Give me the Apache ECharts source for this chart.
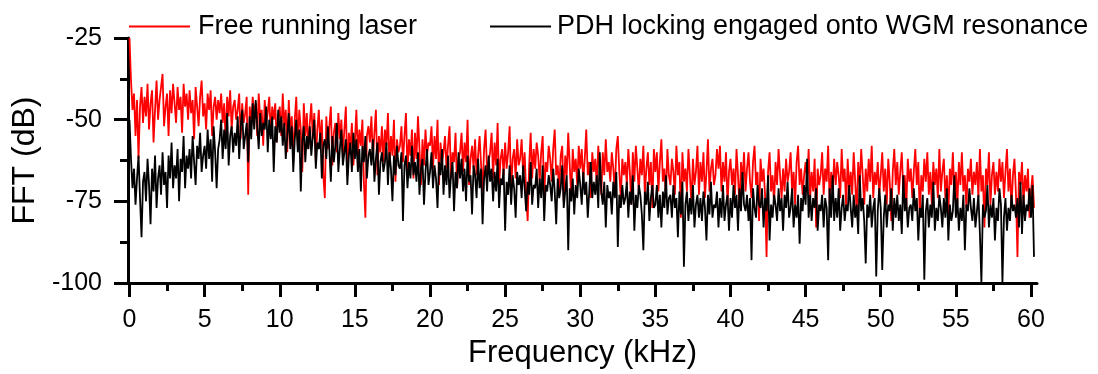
<!DOCTYPE html>
<html>
<head>
<meta charset="utf-8">
<script src="https://cdn.jsdelivr.net/npm/echarts@6/dist/echarts.min.js"></script>
<style>
html,body{margin:0;padding:0;background:#fff;}
#chart{width:1098px;height:374px;}
</style>
</head>
<body>
<div id="chart"></div>
<script>
// Frequency grid (kHz): first sample and spacing
const freqStart = 0;
const freqStep = 0.1;

const seriesNames = ['Free running laser', 'PDH locking engaged onto WGM resonance'];

// Free running laser FFT (dB) (one row = 1 kHz)
const freeRunning = [
  -25, -38, -47, -42, -55, -44, -62, -46, -40, -51,
  -43, -49, -39, -53, -45, -41, -57, -47, -38, -50,
  -44, -40, -36, -52, -46, -42, -55, -41, -48, -39,
  -45, -51, -40, -47, -43, -54, -39, -46, -42, -50,
  -41, -48, -44, -56, -40, -46, -52, -43, -38, -49,
  -45, -53, -42, -47, -41, -55, -46, -43, -50, -44,
  -48, -42, -51, -45, -57, -43, -49, -41, -53, -46,
  -44, -50, -47, -42, -56, -45, -51, -48, -43, -73,
  -46, -52, -43, -49, -45, -55, -42, -50, -47, -58,
  -44, -51, -48, -43, -54, -46, -50, -45, -57, -49,
  -46, -55, -42, -52, -47, -60, -44, -54, -49, -63,
  -50, -43, -58, -47, -53, -66, -45, -55, -48, -59,
  -51, -45, -56, -48, -63, -53, -47, -58, -50, -67,
  -74, -49, -59, -52, -46, -64, -54, -51, -60, -48,
  -56, -50, -61, -53, -46, -67, -54, -59, -51, -64,
  -57, -47, -61, -53, -58, -50, -69, -80, -55, -52,
  -57, -49, -62, -54, -47, -67, -55, -60, -52, -63,
  -53, -58, -48, -64, -55, -61, -50, -69, -56, -60,
  -58, -52, -63, -55, -48, -66, -56, -61, -53, -68,
  -54, -62, -49, -59, -70, -56, -64, -53, -61, -57,
  -58, -52, -65, -55, -62, -50, -70, -57, -63, -60,
  -55, -65, -58, -52, -68, -60, -63, -54, -71, -62,
  -60, -54, -66, -57, -63, -50, -70, -62, -58, -65,
  -56, -67, -61, -55, -64, -72, -59, -53, -66, -63,
  -60, -54, -68, -57, -64, -51, -70, -62, -59, -67,
  -57, -65, -60, -52, -72, -62, -59, -68, -56, -64,
  -62, -56, -67, -60, -73, -81, -64, -54, -68, -59,
  -65, -57, -61, -69, -60, -55, -74, -63, -66, -58,
  -62, -69, -59, -53, -67, -64, -72, -61, -58, -75,
  -61, -67, -54, -64, -74, -59, -66, -62, -70, -58,
  -65, -59, -69, -62, -53, -67, -63, -74, -60, -66,
  -62, -70, -58, -65, -73, -60, -67, -56, -66, -63,
  -69, -60, -65, -72, -59, -55, -66, -74, -62, -67,
  -63, -70, -59, -66, -76, -60, -69, -58, -65, -72,
  -62, -67, -58, -73, -65, -60, -70, -63, -77, -59,
  -66, -60, -72, -63, -56, -69, -65, -74, -59, -67,
  -70, -62, -66, -73, -58, -67, -63, -80, -60, -69,
  -65, -72, -59, -67, -76, -62, -70, -66, -58, -73,
  -63, -69, -60, -74, -66, -56, -72, -65, -62, -70,
  -67, -59, -65, -58, -72, -63, -69, -60, -76, -66,
  -62, -70, -65, -73, -59, -67, -77, -63, -69, -60,
  -72, -65, -60, -69, -74, -63, -58, -70, -66, -81,
  -62, -69, -65, -73, -92, -66, -60, -72, -67, -76,
  -63, -70, -59, -67, -74, -65, -72, -62, -69, -66,
  -60, -72, -66, -76, -63, -58, -70, -65, -73, -67,
  -63, -69, -59, -74, -66, -72, -62, -83, -65, -70,
  -67, -60, -73, -65, -69, -58, -76, -66, -72, -62,
  -70, -63, -67, -74, -59, -69, -65, -77, -62, -72,
  -66, -73, -60, -69, -79, -63, -70, -59, -67, -76,
  -65, -72, -62, -69, -58, -74, -66, -70, -63, -73,
  -67, -60, -72, -65, -76, -62, -69, -81, -66, -59,
  -70, -63, -73, -66, -60, -72, -67, -77, -62, -69,
  -65, -74, -66, -59, -70, -63, -80, -67, -72, -62,
  -69, -60, -73, -66, -76, -63, -70, -65, -74, -59,
  -72, -66, -62, -74, -67, -79, -65, -70, -60, -73,
  -66, -76, -63, -70, -60, -72, -67, -77, -65, -69,
  -62, -73, -66, -70, -63, -74, -59, -72, -67, -83,
  -65, -70, -60, -76, -67, -63, -73, -66, -72, -62,
  -69, -63, -74, -66, -59, -72, -65, -77, -67, -62,
  -73, -92, -66, -70, -63, -76, -67, -72, -65, -80,
  -72, -67, -77
];

// PDH locked FFT (dB) (one row = 1 kHz)
const pdhLocked = [
  -50, -62, -71, -65, -76, -68, -61, -74, -86, -69,
  -66, -75, -62, -70, -82, -65, -72, -61, -77, -68,
  -64, -73, -60, -70, -66, -77, -61, -68, -57, -71,
  -64, -68, -59, -75, -62, -66, -55, -71, -61, -65,
  -59, -68, -55, -63, -70, -58, -62, -54, -66, -61,
  -58, -65, -53, -62, -56, -69, -52, -60, -71, -59,
  -56, -50, -62, -53, -59, -48, -64, -55, -52, -60,
  -54, -58, -49, -62, -52, -47, -59, -55, -51, -63,
  -49, -56, -45, -53, -44, -52, -59, -48, -55, -51,
  -53, -46, -60, -50, -56, -49, -66, -52, -57, -47,
  -54, -49, -58, -51, -62, -55, -48, -59, -52, -66,
  -56, -50, -60, -53, -72, -57, -52, -63, -55, -59,
  -52, -61, -55, -50, -65, -57, -59, -54, -68, -58,
  -56, -62, -52, -59, -69, -55, -63, -58, -51, -66,
  -59, -53, -64, -60, -56, -70, -61, -57, -66, -54,
  -62, -56, -66, -59, -72, -58, -63, -55, -68, -61,
  -59, -64, -56, -69, -62, -57, -73, -63, -60, -66,
  -63, -57, -70, -60, -65, -75, -61, -67, -58, -64,
  -65, -60, -81, -64, -61, -71, -63, -68, -58, -67,
  -63, -69, -60, -73, -65, -62, -76, -66, -59, -70,
  -66, -60, -71, -64, -68, -77, -63, -67, -59, -73,
  -64, -70, -61, -74, -67, -63, -78, -66, -71, -60,
  -68, -62, -72, -65, -75, -61, -69, -67, -79, -64,
  -67, -74, -62, -71, -65, -82, -68, -64, -72, -61,
  -69, -65, -75, -66, -72, -62, -77, -68, -70, -65,
  -84, -69, -73, -64, -76, -67, -71, -80, -66, -70,
  -67, -74, -64, -71, -78, -69, -73, -63, -76, -70,
  -71, -65, -77, -68, -74, -64, -81, -70, -72, -67,
  -70, -75, -65, -72, -82, -68, -74, -71, -64, -77,
  -72, -67, -90, -71, -75, -68, -79, -70, -74, -65,
  -70, -76, -66, -73, -69, -80, -72, -63, -74, -69,
  -73, -67, -77, -60, -72, -76, -69, -83, -70, -74,
  -72, -79, -69, -74, -66, -89, -73, -77, -70, -76,
  -74, -69, -80, -72, -76, -67, -84, -73, -77, -70,
  -73, -79, -90, -72, -76, -69, -81, -74, -70, -77,
  -76, -70, -80, -73, -83, -72, -77, -67, -79, -74,
  -73, -80, -70, -77, -74, -86, -72, -79, -69, -95,
  -76, -72, -81, -74, -79, -70, -83, -76, -73, -80,
  -74, -81, -72, -77, -87, -73, -79, -69, -80, -76,
  -77, -72, -83, -74, -80, -70, -81, -76, -73, -84,
  -74, -80, -70, -77, -73, -84, -71, -78, -66, -76,
  -78, -73, -81, -74, -93, -71, -77, -80, -70, -76,
  -77, -71, -83, -74, -78, -67, -87, -76, -80, -73,
  -76, -81, -71, -78, -74, -84, -73, -77, -69, -80,
  -77, -71, -83, -76, -80, -73, -88, -74, -78, -70,
  -76, -62, -80, -73, -81, -74, -77, -71, -84, -76,
  -78, -73, -83, -74, -77, -93, -71, -80, -67, -81,
  -74, -80, -71, -84, -77, -73, -81, -76, -78, -70,
  -77, -83, -73, -80, -76, -85, -67, -78, -74, -81,
  -94, -76, -80, -73, -83, -77, -74, -98, -78, -71,
  -77, -96, -80, -73, -83, -76, -78, -71, -84, -74,
  -80, -73, -81, -76, -85, -67, -78, -74, -83, -77,
  -76, -81, -71, -78, -74, -87, -77, -80, -73, -99,
  -78, -74, -83, -76, -80, -69, -84, -77, -81, -73,
  -77, -83, -74, -80, -71, -87, -76, -81, -78, -67,
  -80, -74, -84, -77, -81, -73, -90, -76, -78, -71,
  -77, -81, -74, -83, -78, -73, -85, -100, -76, -80,
  -78, -70, -83, -76, -80, -74, -87, -77, -81, -71,
  -76, -100, -80, -74, -84, -77, -81, -73, -78, -76,
  -80, -74, -83, -69, -85, -73, -81, -76, -78, -71,
  -80, -70, -92
];

// Tick values
const xMajorTicks = [0, 5, 10, 15, 20, 25, 30, 35, 40, 45, 50, 55, 60];
const xMinorTicks = [2.5, 7.5, 12.5, 17.5, 22.5, 27.5, 32.5, 37.5, 42.5, 47.5, 52.5, 57.5];
const yMajorTicks = [-100, -75, -50, -25];
const yMinorTicks = [-87.5, -62.5, -37.5];

function toPairs(vals) {
  return vals.map(function (v, i) { return [+(freqStart + i * freqStep).toFixed(3), v]; });
}

const FONT = '"Liberation Sans", Arial, sans-serif';
const chart = echarts.init(document.getElementById('chart'), null, {renderer: 'canvas'});

const axisBlack = {color: '#000', width: 3};

chart.setOption({
  animation: false,
  backgroundColor: '#fff',
  textStyle: {fontFamily: FONT, color: '#000'},
  grid: {left: 128, right: 61, top: 38, bottom: 90},
  legend: [
    {
      data: [seriesNames[0]], left: 124, top: 8,
      icon: 'rect', itemWidth: 61, itemHeight: 2, itemGap: 0,
      textStyle: {fontSize: 27, color: '#000', fontFamily: FONT, padding: [0, 0, 0, 3]}
    },
    {
      data: [seriesNames[1]], left: 485, top: 8,
      icon: 'rect', itemWidth: 61, itemHeight: 2, itemGap: 0,
      textStyle: {fontSize: 27, color: '#000', fontFamily: FONT, padding: [0, 0, 0, 1]}
    }
  ],
  xAxis: [
    {
      type: 'value', min: -0.1, max: 60.4, position: 'bottom',
      name: 'Frequency (kHz)', nameLocation: 'middle', nameGap: 55,
      nameTextStyle: {fontSize: 31, color: '#000', fontFamily: FONT},
      axisLine: {show: true, onZero: false, lineStyle: axisBlack},
      axisTick: {show: true, customValues: xMajorTicks, length: 14, lineStyle: axisBlack},
      axisLabel: {customValues: xMajorTicks, fontSize: 25, color: '#000', margin: 25, fontFamily: FONT},
      splitLine: {show: false}
    },
    {
      type: 'value', min: -0.1, max: 60.4, position: 'bottom',
      axisLine: {show: false, onZero: false},
      axisTick: {show: true, customValues: xMinorTicks, length: 8, lineStyle: axisBlack},
      axisLabel: {show: false, customValues: xMinorTicks},
      splitLine: {show: false}
    }
  ],
  yAxis: [
    {
      type: 'value', min: -100, max: -25, position: 'left',
      name: 'FFT (dB)', nameLocation: 'middle', nameGap: 83,
      nameTextStyle: {fontSize: 32, color: '#000', fontFamily: FONT},
      axisLine: {show: true, onZero: false, lineStyle: axisBlack},
      axisTick: {show: true, customValues: yMajorTicks, length: 14, lineStyle: axisBlack},
      axisLabel: {customValues: yMajorTicks, fontSize: 25, color: '#000', margin: 26, fontFamily: FONT},
      splitLine: {show: false}
    },
    {
      type: 'value', min: -100, max: -25, position: 'left',
      axisLine: {show: false, onZero: false},
      axisTick: {show: true, customValues: yMinorTicks, length: 8, lineStyle: axisBlack},
      axisLabel: {show: false, customValues: yMinorTicks},
      splitLine: {show: false}
    }
  ],
  series: [
    {
      name: seriesNames[0], type: 'line', data: toPairs(freeRunning),
      xAxisIndex: 0, yAxisIndex: 0,
      symbol: 'none', showSymbol: false,
      lineStyle: {color: '#ff0000', width: 1.8},
      itemStyle: {color: '#ff0000'}
    },
    {
      name: seriesNames[1], type: 'line', data: toPairs(pdhLocked),
      xAxisIndex: 0, yAxisIndex: 0,
      symbol: 'none', showSymbol: false,
      lineStyle: {color: '#000000', width: 1.8},
      itemStyle: {color: '#000000'}
    }
  ]
});
</script>
</body>
</html>
